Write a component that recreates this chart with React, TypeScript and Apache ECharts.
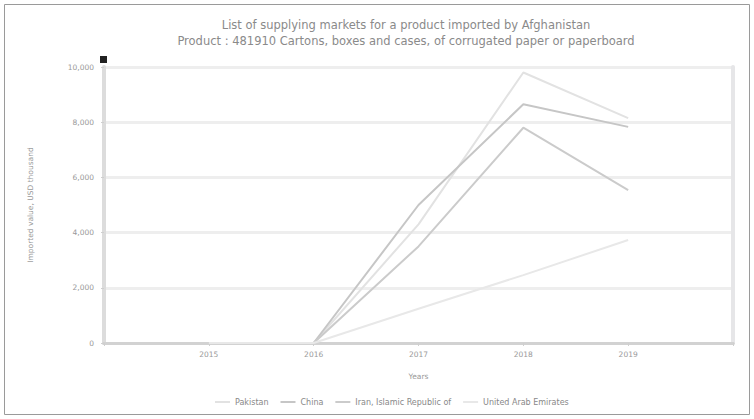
import React, { useEffect, useRef } from "react";
import * as echarts from "echarts";

const titleText = "List of supplying markets for a product imported by Afghanistan";
const subtitleText = "Product : 481910 Cartons, boxes and cases, of corrugated paper or paperboard";
const years = [2015, 2016, 2017, 2018, 2019];
const seriesNames = ["Pakistan", "China", "Iran, Islamic Republic of", "United Arab Emirates"];
const pakistan = [0, 0, 4300, 9800, 8150];
const china = [0, 0, 5000, 8650, 7830];
const iran = [0, 0, 3500, 7800, 5540];
const uae = [0, 0, 1240, 2460, 3730];
const seriesColors = ["#e2e2e2", "#c6c6c6", "#cbcbcb", "#e8e8e8"];

export default function App() {
  const ref = useRef<HTMLDivElement>(null);
  useEffect(() => {
    if (!ref.current) return;
    const chart = echarts.init(ref.current, undefined, { renderer: "svg" });
    const allValues = [pakistan, china, iran, uae];
    const font = "DejaVu Sans, sans-serif";
    chart.setOption({
      animation: false,
      backgroundColor: "#ffffff",
      title: {
        text: titleText + "\n" + subtitleText,
        left: 401,
        textAlign: "center",
        top: 12,
        textStyle: { fontSize: 11.5, fontWeight: "normal", color: "#8a8a8a", fontFamily: font, lineHeight: 16 },
      },
      legend: {
        bottom: 8,
        left: 210,
        data: seriesNames,
        icon: "rect",
        itemWidth: 15,
        itemHeight: 2,
        itemGap: 12,
        textStyle: { fontSize: 8, color: "#888", fontFamily: font },
      },
      grid: { left: 104, right: 21, top: 67, bottom: 76 },
      xAxis: [
        {
          type: "value",
          min: 2014,
          max: 2020,
          interval: 1,
          name: "Years",
          nameLocation: "middle",
          nameGap: 29,
          nameTextStyle: { fontSize: 7.5, color: "#999", fontFamily: font },
          axisLine: { lineStyle: { color: "#cfcfcf", width: 3 } },
          axisTick: { show: true, length: 3, lineStyle: { color: "#cfcfcf" } },
          axisLabel: {
            fontSize: 7.5,
            color: "#999",
            fontFamily: font,
            margin: 7,
            formatter: (v: number) => (years.indexOf(v) >= 0 ? String(v) : ""),
          },
          splitLine: { show: false },
        },
        {
          type: "value",
          position: "top",
          min: 2014,
          max: 2020,
          axisLine: { lineStyle: { color: "#d2d2d2", width: 3 } },
          axisTick: { show: false },
          axisLabel: { show: false },
          splitLine: { show: false },
        },
      ],
      yAxis: [
        {
          type: "value",
          min: 0,
          max: 10000,
          interval: 2000,
          name: "Imported value, USD thousand",
          nameLocation: "middle",
          nameGap: 70,
          nameTextStyle: { fontSize: 7.5, color: "#999", fontFamily: font },
          axisLine: { show: true, lineStyle: { color: "#dcdcdc", width: 4 } },
          axisTick: { show: true, length: 3, lineStyle: { color: "#cfcfcf" } },
          axisLabel: {
            fontSize: 7.5,
            color: "#999",
            fontFamily: font,
            margin: 10,
            formatter: (v: number) => v.toLocaleString("en-US"),
          },
          splitLine: { show: true, lineStyle: { color: "#eeeeee", width: 3 } },
        },
        {
          type: "value",
          position: "right",
          min: 0,
          max: 10000,
          axisLine: { show: true, lineStyle: { color: "#e6e6e8", width: 4 } },
          axisTick: { show: false },
          axisLabel: { show: false },
          splitLine: { show: false },
        },
      ],
      series: seriesNames.map((name, i) => ({
        name,
        type: "line",
        xAxisIndex: 0,
        yAxisIndex: 0,
        data: years.map((y, j) => [y, allValues[i][j]]),
        showSymbol: false,
        symbol: "none",
        lineStyle: { color: seriesColors[i], width: 2 },
        itemStyle: { color: seriesColors[i] },
      })),
      graphic: [
        {
          type: "rect",
          shape: { x: 4.5, y: 4.5, width: 745, height: 410 },
          style: { fill: "none", stroke: "#9a9a9a", lineWidth: 1 },
          silent: true,
        },
        {
          type: "rect",
          shape: { x: 100, y: 56, width: 7, height: 7 },
          style: { fill: "#222", stroke: "none" },
          silent: true,
        },
      ],
    });
    return () => chart.dispose();
  }, []);
  return <div ref={ref} style={{ position: "fixed", left: 0, top: 0, width: 754, height: 419 }} />;
}
